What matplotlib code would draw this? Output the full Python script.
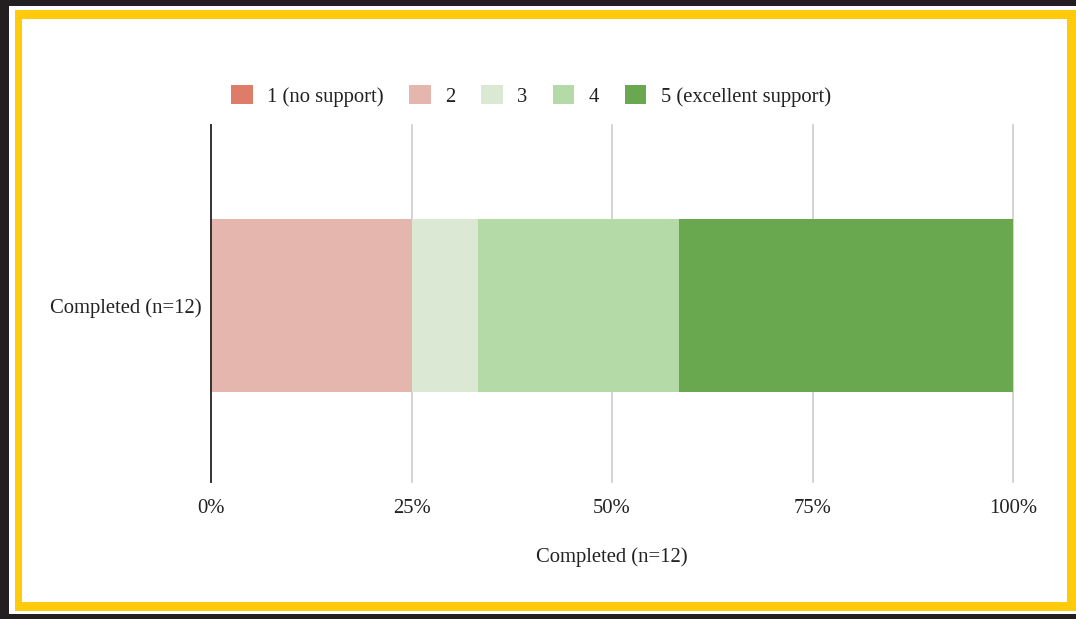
import numpy as np
import matplotlib
matplotlib.use("Agg")
import matplotlib.pyplot as plt
from matplotlib.patches import Rectangle, Patch

# ---- data ----
category = "Completed (n=12)"
levels = ["1 (no support)", "2", "3", "4", "5 (excellent support)"]
counts = [0, 3, 1, 3, 5]
colors = ["#DF7C69", "#E5B6AD", "#DBE8D4", "#B4DAA8", "#6AA84F"]
xticks = [0, 0.25, 0.5, 0.75, 1.0]
xtick_labels = ["0%", "25%", "50%", "75%", "100%"]
xlabel = "Completed (n=12)"

W, H = 1076, 619
fig = plt.figure(figsize=(W / 100, H / 100), dpi=100)
fig.patch.set_facecolor("#231F20")

def frect(x0, y0, x1, y1, color, z):
    fig.patches.append(Rectangle((x0 / W, 1 - y1 / H), (x1 - x0) / W, (y1 - y0) / H,
                                 transform=fig.transFigure, facecolor=color,
                                 edgecolor="none", zorder=z))

frect(9, 6, W + 5, 614, "white", -3)
frect(15, 10, W + 5, 611, "#FFCB0B", -2)
frect(22, 19, 1067, 602, "white", -1)

serif = ["Liberation Serif", "DejaVu Serif"]
fs = 14.9

ax = fig.add_axes([211 / W, 1 - 482 / H, (1013 - 211) / W, (482 - 125) / H])
ax.set_facecolor("none")

shares = np.array(counts, dtype=float) / np.sum(counts)
lefts = np.concatenate([[0], np.cumsum(shares)[:-1]])
for lab, s, l, c in zip(levels, shares, lefts, colors):
    ax.barh([category], [s], left=[l], height=0.485, color=c, linewidth=0, zorder=3)

ax.set_xlim(0, 1)
ax.set_ylim(-0.4945, 0.5055)
ax.set_xticks(xticks)
ax.set_xticklabels(xtick_labels, fontfamily=serif, fontsize=fs, color="#222222")
ax.tick_params(axis="both", length=0)
ax.tick_params(axis="x", pad=12)
ax.tick_params(axis="y", pad=7)
for t in ax.get_yticklabels():
    t.set_fontfamily(serif)
    t.set_fontsize(fs)
    t.set_color("#222222")
ax.grid(axis="x", color="#CCCCCC", linewidth=1.2, zorder=0)
for gl in ax.get_xgridlines():
    gl.set_clip_on(False)
for side in ["top", "right", "bottom"]:
    ax.spines[side].set_visible(False)
ax.spines["left"].set_color("#333333")
ax.spines["left"].set_linewidth(1.4)
ax.spines["left"].set_zorder(4)

fig.text(612 / W, 1 - 557 / H, xlabel, ha="center", va="center",
         fontfamily=serif, fontsize=fs, color="#222222")

handles = [Patch(facecolor=c, edgecolor="none") for c in colors]
leg = fig.legend(handles, levels, loc="center", bbox_to_anchor=(531 / W, 1 - 96 / H),
                 ncol=5, frameon=False, handlelength=1.05, handleheight=1.05,
                 handletextpad=0.7, columnspacing=1.22,
                 prop={"family": serif, "size": fs})
for t in leg.get_texts():
    t.set_color("#222222")

fig.savefig("out.png", dpi=100, facecolor=fig.get_facecolor())
